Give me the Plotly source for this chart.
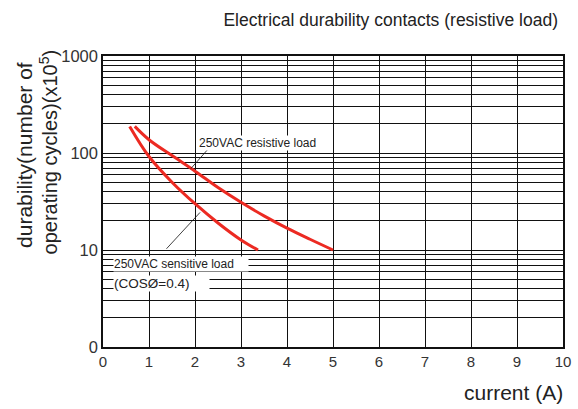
import plotly.graph_objects as go

# Durability curves (current in A, cycles x10^5)
resistive_x = [0.69, 1.0, 1.5, 2.0, 2.5, 3.0, 3.5, 4.0, 4.5, 5.0]
resistive_y = [188, 137, 94, 65, 44, 31, 22.5, 16.8, 12.9, 10]

sensitive_x = [0.58, 1.0, 1.5, 2.0, 2.5, 3.0, 3.37]
sensitive_y = [188, 92, 50, 30, 19, 12.7, 10]

# leader lines from the labels to the curves
resistive_leader_x = [2.37, 1.91]
resistive_leader_y = [122, 69]
sensitive_leader_x = [2.11, 1.38]
sensitive_leader_y = [24.4, 10.3]

x_ticks = list(range(0, 11))
decade_vals = [1, 10, 100, 1000]
decade_text = ["0", "10", "100", "1000"]

# every 1..9 x 10^k line of the log grid, labels only on the decades
grid_vals = []
grid_text = []
for i, d in enumerate(decade_vals[:-1]):
    for m in range(1, 10):
        grid_vals.append(d * m)
        grid_text.append(decade_text[i] if m == 1 else "")
grid_vals.append(decade_vals[-1])
grid_text.append(decade_text[-1])

RED = "#ec2a22"
INK = "#111111"
FONT = "Liberation Sans, Arial, sans-serif"

fig = go.Figure()
for xs, ys in [(resistive_x, resistive_y), (sensitive_x, sensitive_y)]:
    fig.add_trace(go.Scatter(x=xs, y=ys, mode="lines",
                             line=dict(color=RED, width=3, shape="spline", smoothing=1.0),
                             showlegend=False, hoverinfo="skip"))
for xs, ys in [(resistive_leader_x, resistive_leader_y),
               (sensitive_leader_x, sensitive_leader_y)]:
    fig.add_trace(go.Scatter(x=xs, y=ys, mode="lines",
                             line=dict(color=INK, width=0.8),
                             showlegend=False, hoverinfo="skip"))

label_font = dict(family=FONT, size=12, color="#222")
fig.add_annotation(x=2.07, y=2.103, xref="x", yref="y", text="250VAC resistive load",
                   showarrow=False, xanchor="left", yanchor="middle", align="left",
                   width=124, font=label_font, bgcolor="white", borderpad=0)
fig.add_annotation(x=0.22, y=0.858, xref="x", yref="y", text="250VAC sensitive load",
                   showarrow=False, xanchor="left", yanchor="middle", align="left",
                   width=134, font=label_font, bgcolor="white", borderpad=0)
fig.add_annotation(x=0.22, y=0.655, xref="x", yref="y", text="(COSØ=0.4)",
                   showarrow=False, xanchor="left", yanchor="middle", align="left",
                   width=95, font=dict(family=FONT, size=13.5, color="#222"),
                   bgcolor="white", borderpad=0)

# axis titles (y title as two rotated lines with tight leading)
fig.add_annotation(x=-0.1696, y=0.66, xref="paper", yref="paper",
                   text="durability(number of",
                   textangle=-90, showarrow=False, xanchor="center", yanchor="middle",
                   font=dict(family=FONT, size=21, color="#222"))
fig.add_annotation(x=-0.1196, y=0.672, xref="paper", yref="paper",
                   text="operating cycles)(x10<sup>5</sup>)",
                   textangle=-90, showarrow=False, xanchor="center", yanchor="middle",
                   font=dict(family=FONT, size=20, color="#222"))
fig.add_annotation(x=1.004, y=-0.155, xref="paper", yref="paper", text="current (A)",
                   showarrow=False, xanchor="right", yanchor="middle",
                   font=dict(family=FONT, size=21, color="#222"))

fig.update_layout(
    width=578, height=409,
    margin=dict(l=103, r=15, t=56, b=62),
    paper_bgcolor="white", plot_bgcolor="white",
    font=dict(family=FONT, color="#333"),
    title=dict(text="Electrical durability contacts (resistive load)",
               x=0.676, xanchor="center", xref="container",
               y=1 - 20 / 409, yanchor="middle", yref="container",
               font=dict(size=17.5, color="#222")),
    xaxis=dict(range=[0, 10], tickvals=x_ticks, ticktext=[str(v) for v in x_ticks],
               showgrid=True, gridcolor=INK, gridwidth=1,
               showline=True, linecolor=INK, linewidth=1.5, mirror=True,
               ticks="", tickfont=dict(size=15, color="#333"), zeroline=False,
               automargin=False),
    yaxis=dict(type="log", range=[0, 3], tickvals=grid_vals, ticktext=grid_text,
               showgrid=True, gridcolor=INK, gridwidth=1,
               showline=True, linecolor=INK, linewidth=1.5, mirror=True,
               ticks="", tickfont=dict(size=16.5, color="#333"), zeroline=False,
               automargin=False),
)

fig.write_html("out.html")
